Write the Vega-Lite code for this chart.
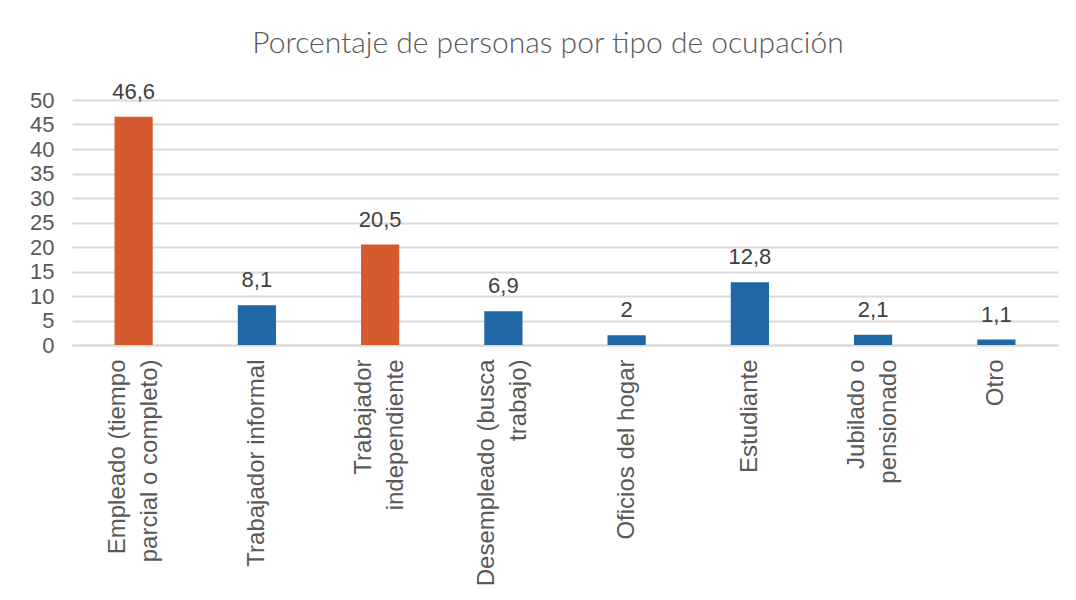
{
  "$schema": "https://vega.github.io/schema/vega-lite/v6.json",
  "autosize": {"type": "none"},
  "width": 986,
  "height": 245,
  "padding": {"left": 72, "top": 100, "right": 18, "bottom": 255},
  "background": "white",
  "config": {
    "locale": {"number": {"decimal": ",", "thousands": ".", "grouping": [3], "currency": ["$", ""]}},
    "view": {"stroke": null},
    "font": "Liberation Sans"
  },
  "title": {
    "text": "Porcentaje de personas por tipo de ocupación",
    "font": "Lato",
    "fontSize": 30,
    "fontWeight": 300,
    "color": "#595959",
    "anchor": "middle",
    "dx": -17,
    "offset": 22
  },
  "data": {
    "values": [
      {"ocupacion": "Empleado (tiempo|parcial o completo)", "valor": 46.6, "grupo": "destacado"},
      {"ocupacion": "Trabajador informal", "valor": 8.1, "grupo": "otro"},
      {"ocupacion": "Trabajador|independiente", "valor": 20.5, "grupo": "destacado"},
      {"ocupacion": "Desempleado (busca|trabajo)", "valor": 6.9, "grupo": "otro"},
      {"ocupacion": "Oficios del hogar", "valor": 2, "grupo": "otro"},
      {"ocupacion": "Estudiante", "valor": 12.8, "grupo": "otro"},
      {"ocupacion": "Jubilado o|pensionado", "valor": 2.1, "grupo": "otro"},
      {"ocupacion": "Otro", "valor": 1.1, "grupo": "otro"}
    ]
  },
  "encoding": {
    "x": {
      "field": "ocupacion",
      "type": "nominal",
      "sort": null,
      "scale": {"paddingInner": 0.69, "paddingOuter": 0.345},
      "axis": {
        "title": null,
        "labelExpr": "split(datum.label, '|')",
        "labelAngle": -90,
        "labelAlign": "right",
        "labelBaseline": "middle",
        "labelFontSize": 24,
        "labelLineHeight": 32,
        "labelColor": "#595959",
        "labelPadding": 14,
        "labelLimit": 400,
        "labelOffset": {"condition": {"test": "indexof(datum.value, '|') >= 0", "value": -16}, "value": 0},
        "ticks": false,
        "domainColor": "#d9d9d9",
        "domainWidth": 2,
        "grid": false
      }
    },
    "y": {
      "field": "valor",
      "type": "quantitative",
      "scale": {"domain": [0, 50], "nice": false},
      "axis": {
        "title": null,
        "values": [0, 5, 10, 15, 20, 25, 30, 35, 40, 45, 50],
        "labelFontSize": 22,
        "labelColor": "#595959",
        "labelPadding": 18,
        "ticks": false,
        "domain": false,
        "gridColor": "#d9d9d9",
        "gridWidth": 2
      }
    }
  },
  "layer": [
    {
      "mark": {"type": "bar"},
      "encoding": {
        "color": {
          "field": "grupo",
          "type": "nominal",
          "scale": {"domain": ["destacado", "otro"], "range": ["#D55A30", "#1F67A5"]},
          "legend": null
        }
      }
    },
    {
      "mark": {"type": "text", "baseline": "bottom", "dy": -13, "fontSize": 22, "color": "#404040"},
      "encoding": {
        "text": {"field": "valor", "type": "quantitative", "format": ".1~f"}
      }
    }
  ]
}
